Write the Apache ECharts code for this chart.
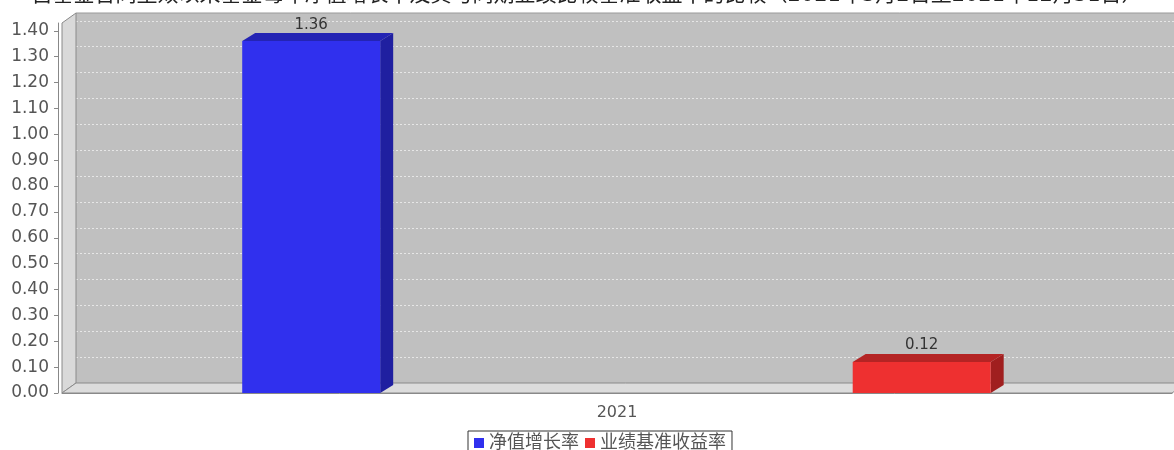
<!DOCTYPE html>
<html><head><meta charset="utf-8">
<script src="https://cdn.jsdelivr.net/npm/echarts@6/dist/echarts.min.js"></script>
<style>html,body{margin:0;padding:0;background:#fff}#c{width:1174px;height:450px}</style>
</head><body><div id="c"></div>
<script>
// ---- data ----
const titleText = '自基金合同生效以来基金每年净值增长率及其与同期业绩比较基准收益率的比较（2021年3月2日至2021年12月31日）';
const categories = ['2021'];
const seriesNames = ['净值增长率', '业绩基准收益率'];
const navGrowth = [1.36];
const benchmarkReturn = [0.12];
const yTickLabels = ['0.00','0.10','0.20','0.30','0.40','0.50','0.60','0.70','0.80','0.90','1.00','1.10','1.20','1.30','1.40'];

// ---- layout / style ----
const FONT = 'DejaVu Sans, Noto Sans CJK SC, sans-serif';
const yTicks = yTickLabels.map(Number);
const Y_MAX = 1.43;
const FRONT = {left: 62, top: 23, right: 2, bottom: 57};
const WALL_DX = 14, WALL_DY = -10;
const BAR_DX = 13, BAR_DY = -8;
const BAR_W = 0.1243;
const colors = [
  {front: '#3030EE', top: '#2424B4', side: '#1F1FA0'},
  {front: '#EE3030', top: '#B42424', side: '#A01F1F'}
];
const offsets = [-0.2755, 0.2745];

function makeRender(idx) {
  return function (params, api) {
    const cat = api.value(0), v = api.value(1);
    const base = api.coord([cat, 0]);
    const top = api.coord([cat, v]);
    const band = api.size([1, 0])[0];
    const w = band * BAR_W;
    const cx = base[0] + band * offsets[idx];
    const x0 = cx - w / 2, x1 = cx + w / 2;
    const c = colors[idx];
    return {type: 'group', children: [
      {type: 'polygon', shape: {points: [[x1, top[1]], [x1 + BAR_DX, top[1] + BAR_DY], [x1 + BAR_DX, base[1] + BAR_DY], [x1, base[1]]]}, style: {fill: c.side}},
      {type: 'polygon', shape: {points: [[x0, top[1]], [x0 + BAR_DX, top[1] + BAR_DY], [x1 + BAR_DX, top[1] + BAR_DY], [x1, top[1]]]}, style: {fill: c.top}},
      {type: 'rect', shape: {x: x0, y: top[1], width: w, height: base[1] - top[1]}, style: {fill: c.front}},
      {type: 'text', x: cx, y: top[1] + BAR_DY - 1, style: {text: v.toFixed(2), align: 'center', verticalAlign: 'bottom', fill: '#333', font: '15px ' + FONT}}
    ]};
  };
}

const W = 1174, H = 450;
const fx0 = FRONT.left, fx1 = W - FRONT.right, fy0 = FRONT.top, fy1 = H - FRONT.bottom;

const chart = echarts.init(document.getElementById('c'), null, {renderer: 'canvas'});
chart.setOption({
  animation: false,
  backgroundColor: '#fff',
  title: {text: titleText, left: 'center', top: -20, textStyle: {fontSize: 21, fontWeight: 'normal', color: '#222', fontFamily: FONT}},
  legend: {
    data: seriesNames, left: 468, top: 431, itemWidth: 10, itemHeight: 10, itemGap: 6,
    icon: 'rect', borderColor: '#333', borderWidth: 1, padding: [3, 6, 4, 6],
    textStyle: {fontSize: 18, color: '#555', fontFamily: FONT}
  },
  grid: [
    {left: fx0, top: fy0, right: FRONT.right, bottom: FRONT.bottom, show: false},
    {left: fx0 + WALL_DX, top: fy0 + WALL_DY, right: 0, bottom: FRONT.bottom - WALL_DY, show: true, backgroundColor: '#C0C0C0', borderWidth: 0, z: 0}
  ],
  xAxis: [
    {type: 'category', gridIndex: 0, data: categories, offset: 4,
     axisLine: {lineStyle: {color: '#888'}}, axisTick: {alignWithLabel: true, length: 2, lineStyle: {color: '#888'}},
     axisLabel: {fontSize: 16, color: '#555', fontFamily: FONT, margin: 8}},
    {type: 'category', gridIndex: 1, data: categories, show: false}
  ],
  yAxis: [
    {type: 'value', gridIndex: 0, min: 0, max: Y_MAX, interval: 0.1, offset: 4,
     axisLine: {show: true, lineStyle: {color: '#888'}},
     axisTick: {show: true, length: 4, customValues: yTicks, lineStyle: {color: '#888'}},
     axisLabel: {customValues: yTicks, formatter: v => v.toFixed(2), fontSize: 17, color: '#555', fontFamily: FONT, margin: 9},
     splitLine: {show: false}},
    {type: 'value', gridIndex: 1, min: 0, max: Y_MAX, interval: 0.1,
     axisLine: {show: false}, axisTick: {show: false}, axisLabel: {show: false},
     splitLine: {show: true, showMinLine: false, showMaxLine: false, lineStyle: {color: '#E6E6E6', type: [2, 2], width: 1}}}
  ],
  graphic: [
    {type: 'line', z: 1, shape: {x1: fx0 + WALL_DX, y1: fy0 + WALL_DY, x2: W, y2: fy0 + WALL_DY}, style: {stroke: '#999', lineWidth: 1}},
    {type: 'polygon', z: 1, shape: {points: [[fx0, fy1], [fx0, fy0], [fx0 + WALL_DX, fy0 + WALL_DY], [fx0 + WALL_DX, fy1 + WALL_DY]]}, style: {fill: '#D9D9D9', stroke: '#8a8a8a', lineWidth: 1}},
    {type: 'polygon', z: 1, shape: {points: [[fx0, fy1], [fx1, fy1], [fx1 + WALL_DX, fy1 + WALL_DY], [fx0 + WALL_DX, fy1 + WALL_DY]]}, style: {fill: '#DCDCDC', stroke: '#8a8a8a', lineWidth: 1}}
  ],
  series: [
    {name: seriesNames[0], type: 'custom', xAxisIndex: 0, yAxisIndex: 0, z: 5, itemStyle: {color: colors[0].front},
     renderItem: makeRender(0), data: categories.map((c, i) => [i, navGrowth[i]])},
    {name: seriesNames[1], type: 'custom', xAxisIndex: 0, yAxisIndex: 0, z: 5, itemStyle: {color: colors[1].front},
     renderItem: makeRender(1), data: categories.map((c, i) => [i, benchmarkReturn[i]])}
  ]
});
</script></body></html>
